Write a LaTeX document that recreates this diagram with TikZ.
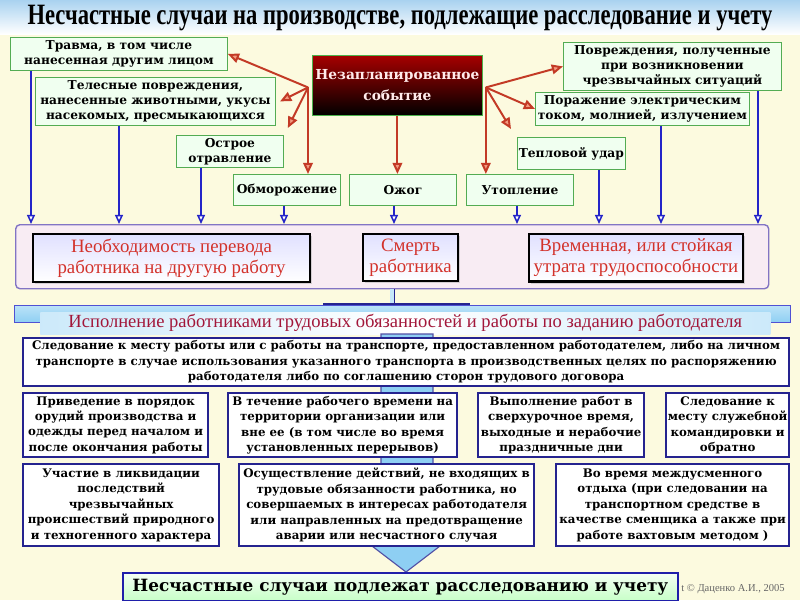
\documentclass[tikz,border=0pt]{standalone}
\usepackage{fontspec}
\setmainfont{Liberation Serif}
\newfontfamily\boxfont{DejaVu Serif}
\usetikzlibrary{positioning,arrows.meta,calc,shadows}
\definecolor{cream}{HTML}{FCFADF}
\definecolor{skyband}{HTML}{A9D2F0}
\definecolor{causered}{HTML}{C33A26}
\definecolor{causetip}{HTML}{F39A80}
\definecolor{linkblue}{HTML}{2424C8}
\definecolor{frameblue}{HTML}{25238F}
\definecolor{pinkbg}{HTML}{F8ECF3}
\definecolor{pinkedge}{HTML}{8274C4}
\definecolor{conred}{HTML}{D3322B}
\definecolor{crimson}{HTML}{A2173A}
\definecolor{barblue}{HTML}{8ECFF3}
\newcommand{\px}[1]{#1*0.25mm}
\tikzset{
  harm/.style={draw=green!35!gray,fill=green!6,line width=0.6pt,inner sep=1pt,align=center,
    font=\boxfont\bfseries\fontsize{8.7}{10.6}\selectfont},
  cause/.style={draw=causered,line width=1.4pt,-{Triangle[length=2.8mm,width=2.4mm,fill=causetip]}},
  toarr/.style={draw=linkblue,line width=1.1pt,-{Triangle[length=2.3mm,width=2mm,fill=white]}},
  conbox/.style={draw=black,line width=1.5pt,top color=blue!12,bottom color=white,align=center,
    text=conred,font=\fontsize{13.4}{15}\selectfont,
    drop shadow={shadow xshift=1.5pt,shadow yshift=-1.5pt,fill=gray!60}},
  cond/.style={draw=frameblue,line width=1.6pt,fill=white,inner sep=1pt,align=center,
    font=\boxfont\bfseries\fontsize{8.4}{11}\selectfont},
}
\begin{document}
\begin{tikzpicture}[x=0.25mm,y=-0.25mm]
  \useasboundingbox (0,0) rectangle (800,600);
  \fill[cream] (0,0) rectangle (800,600);
  \fill[top color=skyband,bottom color=white] (0,0) rectangle (800,34);
  \node (title) at (400,18) {\scalebox{0.765}[1]{\fontsize{21}{24}\selectfont\bfseries
    Несчастные случаи на производстве, подлежащие расследование и учету}};

  % causes
  \node[harm,anchor=north west,minimum width=\px{217},minimum height=\px{33}] (travma) at (10,37)
    {Травма, в том числе\\нанесенная другим лицом};
  \node[harm,anchor=north west,minimum width=\px{240},minimum height=\px{48}] (teles) at (35,77)
    {Телесные повреждения,\\нанесенные животными, укусы\\насекомых, пресмыкающихся};
  \node[harm,anchor=north west,minimum width=\px{107},minimum height=\px{32}] (ostr) at (176,135)
    {Острое\\отравление};
  \node[harm,anchor=north west,minimum width=\px{107},minimum height=\px{31}] (obm) at (233,174) {Обморожение};
  \node[harm,anchor=north west,minimum width=\px{107},minimum height=\px{31}] (ozhog) at (349,174) {Ожог};
  \node[harm,anchor=north west,minimum width=\px{107},minimum height=\px{31}] (utop) at (466,174) {Утопление};
  \node[harm,anchor=north west,minimum width=\px{218},minimum height=\px{48}] (povr) at (563,42)
    {Повреждения, полученные\\при возникновении\\чрезвычайных ситуаций};
  \node[harm,anchor=north west,minimum width=\px{214},minimum height=\px{33}] (porazh) at (535,92)
    {Поражение электрическим\\током, молнией, излучением};
  \node[harm,anchor=north west,minimum width=\px{106},minimum height=\px{32}] (tepl) at (517,137) {Тепловой удар};
  \node[draw=green!40!gray,line width=0.6pt,top color=red!65!black,bottom color=black,
    anchor=north west,minimum width=\px{170},minimum height=\px{60},inner sep=1pt,align=center,
    text=red!8,font=\boxfont\bfseries\fontsize{9.8}{15}\selectfont] (event) at (312,55)
    {Незапланированное\\событие};

  \coordinate (hl) at ($(event.west)+(-4,2)$);
  \coordinate (hr) at ($(event.east)+(3,2)$);
  \draw[cause] (hl) -- (travma.east);
  \draw[cause] (hl) -- ([xshift=3pt]teles.east);
  \draw[cause] (hl) -- ([shift={(4,-7)}]ostr.north east);
  \draw[cause] (hl) -- (hl |- obm.north);
  \draw[cause] (event.south) -- (event.south |- ozhog.north);
  \draw[cause] (hr) -- (povr.west);
  \draw[cause] (hr) -- (porazh.west);
  \draw[cause] (hr) -- ([shift={(-6,-8)}]tepl.north west);
  \draw[cause] (hr) -- (hr |- utop.north);

  % consequences
  \node[draw=pinkedge,line width=1pt,fill=pinkbg,rounded corners=3pt,anchor=north west,
    minimum width=\px{753},minimum height=\px{64}] (conseq) at (15,224) {};
  \foreach \n/\x in {travma/31,teles/119,ostr/201,obm/284,ozhog/394,utop/517,tepl/599,porazh/661,povr/758}
    \draw[toarr] (\x,0 |- \n.south) -- (\x,0 |- conseq.north);
  \node[conbox,anchor=north west,minimum width=\px{277},minimum height=\px{44}] (transfer) at (32,233)
    {Необходимость перевода\\работника на другую работу};
  \node[conbox,anchor=north west,minimum width=\px{95},minimum height=\px{44}] (death) at (362,233)
    {Смерть\\работника};
  \node[conbox,anchor=north west,minimum width=\px{212},minimum height=\px{44}] (loss) at (528,233)
    {Временная, или стойкая\\утрата трудоспособности};

  % duties bar
  \node[draw=linkblue!80,line width=0.6pt,top color=barblue!60,bottom color=barblue,anchor=north west,
    minimum width=\px{776},minimum height=\px{17},inner sep=0pt] (execbar) at (14,305) {};
  \draw[draw=frameblue,line width=0.6pt,double=barblue!50,double distance=2.5pt]
    (conseq.south) -- (conseq.south |- execbar.north);
  \draw[frameblue,line width=1.5pt] (323,304) -- (470,304);
  \node[left color=barblue!45,right color=barblue!45,middle color=white,anchor=north west,
    minimum width=\px{730},minimum height=\px{22},inner sep=0pt,text=crimson,
    font=\fontsize{13.2}{15}\selectfont] (duties) at (40,312)
    {Исполнение работниками трудовых обязанностей и работы по заданию работодателя};

  % big arrow behind the cases
  \filldraw[fill=barblue,draw=frameblue!80,line width=0.8pt]
    (381,334) -- (433,334) -- (433,546) -- (440,546) -- (406,572) -- (372,546) -- (381,546) -- cycle;

  % cases
  \node[cond,anchor=north west,minimum width=\px{766},minimum height=\px{48}] (follow) at (22,337)
    {Следование к месту работы или с работы на транспорте, предоставленном работодателем, либо на личном\\
     транспорте в случае использования указанного транспорта в производственных целях по распоряжению\\
     работодателя либо по соглашению сторон трудового договора};
  \node[cond,anchor=north west,minimum width=\px{185},minimum height=\px{64}] (order) at (22,392)
    {Приведение в порядок\\орудий производства и\\одежды перед началом и\\после окончания работы};
  \node[cond,anchor=north west,minimum width=\px{229},minimum height=\px{64}] (worktime) at (227,392)
    {В течение рабочего времени на\\территории организации или\\вне ее (в том числе во время\\установленных перерывов)};
  \node[cond,anchor=north west,minimum width=\px{166},minimum height=\px{64}] (overtime) at (477,392)
    {Выполнение работ в\\сверхурочное время,\\выходные и нерабочие\\праздничные дни};
  \node[cond,anchor=north west,minimum width=\px{123},minimum height=\px{64}] (trip) at (665,392)
    {Следование к\\месту служебной\\командировки и\\обратно};
  \node[cond,anchor=north west,minimum width=\px{196},minimum height=\px{82}] (emerg) at (22,463)
    {Участие в ликвидации\\последствий\\чрезвычайных\\происшествий природного\\и техногенного характера};
  \node[cond,anchor=north west,minimum width=\px{295},minimum height=\px{82}] (action) at (238,463)
    {Осуществление действий, не входящих в\\трудовые обязанности работника, но\\совершаемых в интересах работодателя\\или направленных на предотвращение\\аварии или несчастного случая};
  \node[cond,anchor=north west,minimum width=\px{233},minimum height=\px{82}] (rest) at (555,463)
    {Во время междусменного\\отдыха (при следовании на\\транспортном средстве в\\качестве сменщика а также при\\работе вахтовым методом )};

  \node[text=gray!80!black,font=\fontsize{7.5}{9}\selectfont,anchor=west,inner sep=0pt] (credit) at (681,589)
    {t © Даценко А.И., 2005};
  \node[draw=linkblue!85!black,line width=1.2pt,top color=green!4,bottom color=green!22,anchor=north west,
    minimum width=\px{555},minimum height=\px{28},inner sep=0pt,
    font=\boxfont\bfseries\fontsize{12}{14}\selectfont] (result) at (122,572)
    {Несчастные случаи подлежат расследованию и учету};
\end{tikzpicture}
\end{document}
